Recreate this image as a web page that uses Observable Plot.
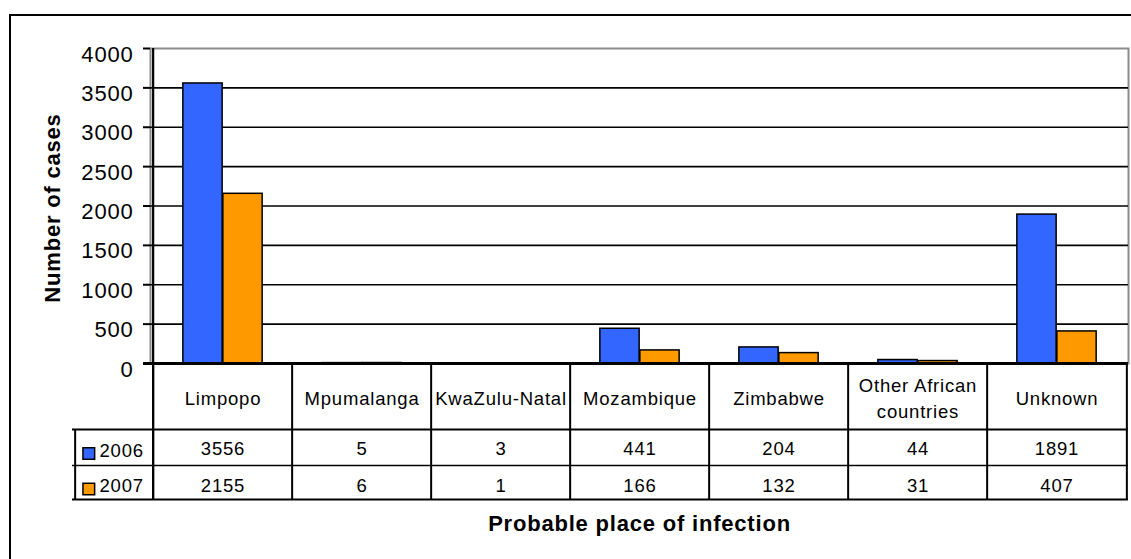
<!DOCTYPE html>
<html>
<head>
<meta charset="utf-8">
<script src="https://cdn.jsdelivr.net/npm/d3@7"></script>
<script src="https://cdn.jsdelivr.net/npm/@observablehq/plot@0.6"></script>
<style>
  html, body { margin: 0; padding: 0; background: #fff; overflow: hidden; }
  #wrap { position: relative; width: 1131px; height: 559px; overflow: hidden; }
  #border { position: absolute; left: 9px; top: 14px; width: 2000px; height: 2000px;
            border-top: 2px solid #000; border-left: 2px solid #000; box-sizing: border-box; }
  #chart { position: absolute; left: 0; top: 0; }
  #chart svg text { letter-spacing: 0.8px; }
</style>
</head>
<body>
<div id="wrap"><div id="border"></div><div id="chart"></div></div>
<script>
const categories = ["Limpopo", "Mpumalanga", "KwaZulu-Natal", "Mozambique", "Zimbabwe", "Other African countries", "Unknown"];
const years = ["2006", "2007"];
const cases2006 = [3556, 5, 3, 441, 204, 44, 1891];
const cases2007 = [2155, 6, 1, 166, 132, 31, 407];
const yTicks = [0, 500, 1000, 1500, 2000, 2500, 3000, 3500, 4000];
const colors = ["#3366FF", "#FF9900"];

const W = 1131, H = 559;
const mL = 150, mR = 3, mT = 48, mB = 196;
const step = (W - mL - mR) / categories.length;
const barW = 40;
const font = "'Liberation Sans', Arial, sans-serif";

const rows2006 = categories.map((c, i) => ({cat: c, year: years[0], value: cases2006[i]}));
const rows2007 = categories.map((c, i) => ({cat: c, year: years[1], value: cases2007[i]}));

const txt = {fontSize: 18.5, fill: "#000", lineAnchor: "middle"};

const chart = Plot.plot({
  width: W, height: H,
  marginLeft: mL, marginRight: mR, marginTop: mT, marginBottom: mB,
  style: {fontFamily: font, color: "#000", background: "transparent"},
  x: {domain: categories, type: "band", paddingInner: 0, paddingOuter: 0, axis: null},
  y: {domain: [0, 4000], label: null},
  color: {domain: years, range: colors},
  marks: [
    Plot.frame({stroke: "#8c8c8c", strokeWidth: 2}),
    Plot.ruleY(yTicks.filter(t => t > 0 && t < 4000), {y: d => d, stroke: "#000", strokeWidth: 1.6}),
    Plot.barY(rows2006, {x: "cat", y: "value", fill: "year", stroke: "#000", strokeWidth: 1.5,
      insetLeft: step / 2 - barW, insetRight: step / 2}),
    Plot.barY(rows2007, {x: "cat", y: "value", fill: "year", stroke: "#000", strokeWidth: 1.5,
      insetLeft: step / 2, insetRight: step / 2 - barW}),
    // y axis ticks and labels
    Plot.axisY(yTicks, {tickSize: 7, tickFormat: () => "", strokeWidth: 2, label: null}),
    Plot.axisY(yTicks, {tickSize: 0, tickPadding: 17, dy: 6, fontSize: 22, label: null,
      tickFormat: d => String(d)}),
    // zero line
    Plot.ruleY([0], {y: d => d, stroke: "#000", strokeWidth: 2.8, insetLeft: -7}),
    // data table: vertical lines
    Plot.ruleX(categories, {x: d => d, dx: -step / 2, stroke: "#000", strokeWidth: 2,
      insetTop: (H - mB - mT), insetBottom: -136}),
    Plot.ruleX([categories[0]], {x: d => d, dx: -step / 2, stroke: "#000", strokeWidth: 2.2,
      insetBottom: -136}),
    Plot.ruleX([categories[categories.length - 1]], {x: d => d, dx: step / 2, stroke: "#000", strokeWidth: 2,
      insetTop: (H - mB - mT), insetBottom: -136}),
    Plot.ruleX([categories[0]], {x: d => d, dx: -step / 2 - 78, stroke: "#000", strokeWidth: 2,
      insetTop: (H - mB - mT) + 66, insetBottom: -136}),
    // data table: horizontal lines
    Plot.ruleY([0], {y: d => d, dy: 66, stroke: "#000", strokeWidth: 2, insetLeft: -78}),
    Plot.ruleY([0], {y: d => d, dy: 102, stroke: "#000", strokeWidth: 1.3, insetLeft: -78}),
    Plot.ruleY([0], {y: d => d, dy: 136, stroke: "#000", strokeWidth: 2, insetLeft: -78}),
    // category names
    Plot.text(categories, {x: d => d, text: d => d, frameAnchor: "bottom", dy: 33,
      lineWidth: 7.3, lineHeight: 1.4, ...txt}),
    // values
    Plot.text(categories, {x: d => d, text: (d, i) => String(cases2006[i]), frameAnchor: "bottom", dy: 86, ...txt}),
    Plot.text(categories, {x: d => d, text: (d, i) => String(cases2007[i]), frameAnchor: "bottom", dy: 123, ...txt}),
    // legend keys in the table
    Plot.dot([years[0]], {fill: d => d, frameAnchor: "bottom-left", dx: -61.7, dy: 90,
      symbol: "square", r: 6.6, stroke: "#000", strokeWidth: 1.5}),
    Plot.dot([years[1]], {fill: d => d, frameAnchor: "bottom-left", dx: -61.7, dy: 125.5,
      symbol: "square", r: 6.6, stroke: "#000", strokeWidth: 1.5}),
    Plot.text([years[0]], {text: d => d, frameAnchor: "bottom-left", textAnchor: "start", dx: -51, dy: 87.5, ...txt}),
    Plot.text([years[1]], {text: d => d, frameAnchor: "bottom-left", textAnchor: "start", dx: -51, dy: 123, ...txt}),
    // axis titles
    Plot.text(["Probable place of infection"], {text: d => d, frameAnchor: "bottom", dy: 160.5,
      fontSize: 22, fontWeight: "bold", fill: "#000", lineAnchor: "middle"}),
    Plot.text(["Number of cases"], {text: d => d, frameAnchor: "left", rotate: -90, dx: -98, dy: 2,
      textAnchor: "middle", lineAnchor: "middle", fontSize: 22, fontWeight: "bold", fill: "#000"})
  ]
});
document.getElementById("chart").appendChild(chart);
</script>
</body>
</html>
